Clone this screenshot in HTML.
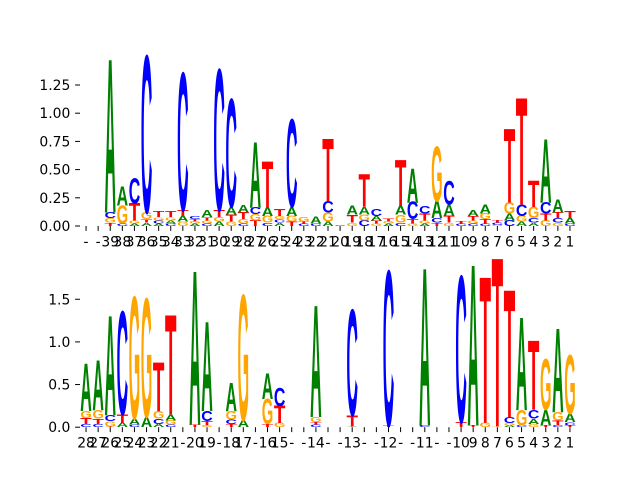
<!DOCTYPE html>
<html><head><meta charset="utf-8"><style>
html,body{margin:0;padding:0;background:#fff;width:640px;height:480px;overflow:hidden}
svg{display:block}
</style></head><body>
<svg id="fig" width="640" height="480" xmlns="http://www.w3.org/2000/svg">
<g id="top"></g>
<g id="bot"></g>
</svg>
<script>
const topLabels = ["-","-","39","38","37","36","35","34","33","32","31","30","29","28","27","26","25","24","23","22","21","20","19","18","17","16","15","14","13","12","11","10","9","8","7","6","5","4","3","2","1"];
const topA = [0,0,1.35,.17,.02,.03,.02,.03,.05,.02,.06,.04,.07,.07,.58,.08,.03,.08,0,.06,.04,.005,.08,.07,.04,.02,.08,.3,.02,.15,.1,0,.05,.08,0,.06,.04,.03,.56,.11,.05];
const topC = [0,0,.05,.02,.22,1.38,.03,.02,1.21,.03,.02,1.24,.95,.02,.06,.03,.03,.77,.02,.02,.1,.005,0,.05,.06,0,.03,.15,.07,.04,.21,.02,.02,.02,.02,.05,.1,.04,.1,.04,.02];
const topG = [0,0,.04,.16,.03,.06,.03,.03,.04,.02,.03,.04,.04,.04,.055,.06,.03,.05,.04,0,.08,0,.03,.05,.02,.02,.07,.02,.03,.48,.03,0,.03,.05,.01,.1,.05,.1,.05,.03,0];
const topT = [0,0,.03,0,.15,.03,.05,.05,.05,.02,.03,.06,.06,.06,.05,.4,.06,.04,.02,0,.55,0,.07,.29,.03,.03,.4,.04,.06,.03,.06,.02,.04,.04,.02,.65,.94,.23,.06,.05,.06];
const botLabels = ["28","27","26","25","24","23","22","21","-","20","19","-","18","17","-","16","15","-","-","14","-","-","13","-","-","12","-","-","11","-","-","10","9","8","7","6","5","4","3","2","1"];
const botA = [.55,.58,1.16,.05,.07,.12,.04,.07,0,1.79,1.04,0,.33,.08,0,.3,0,0,0,1.3,0,0,.01,0,0,0,0,0,1.83,0,0,0,1.87,0,0,.02,1.08,.06,.18,.97,.1];
const botC = [.04,.04,.07,1.2,.03,0,.06,.03,0,0,.12,0,.05,0,0,0,.21,0,0,.03,0,0,1.23,0,0,1.8,0,0,.02,0,0,1.7,0,0,0,.07,.02,.1,0,.02,.04];
const botG = [.08,.1,.06,0,1.42,1.38,.09,.05,0,0,.02,0,.1,1.46,0,.29,.05,0,0,.06,0,0,0,0,0,0,0,0,0,0,0,0,0,.05,.01,.03,.18,.04,.59,.1,.68];
const botT = [.07,.06,.01,.1,0,0,.57,1.16,0,.03,.05,0,.04,0,0,.04,.2,0,0,.03,0,0,.13,0,0,.02,0,0,0,0,0,.06,.02,1.7,1.96,1.48,0,.81,.02,.06,.02];
const topTicks = [0,0.25,0.5,0.75,1.0,1.25], topTickLabels = ["0.00","0.25","0.50","0.75","1.00","1.25"];
const botTicks = [0,0.5,1.0,1.5], botTickLabels = ["0.0","0.5","1.0","1.5"];

const NS="http://www.w3.org/2000/svg";
const COL={A:"#008000",C:"#0000ff",G:"#ffa500",T:"#ff0000"};
const CAP=68.8;
function mk(tag,attrs,parent){const e=document.createElementNS(NS,tag);for(const k in attrs)e.setAttribute(k,attrs[k]);parent.appendChild(e);return e;}
function panel(g,y0,y1,scalePx,labels,A,C,G,T,ticks,tickLabels,pre){
  const x0=80,x1=576,n=labels.length,cw=(x1-x0)/n;
  const xs=i=>x0+(i+0.5)*cw;
  const ys=v=>y1-v*scalePx;
  ticks.forEach((t,k)=>{
    const l=mk("line",{x1:x0-4.9,x2:x0,y1:ys(t),y2:ys(t),stroke:"#000","stroke-width":1},g);
    
    
    const tx=mk("text",{x:x0-9.7,y:ys(t)+5,"text-anchor":"end","font-size":13.9,"font-family":"DejaVu Sans, Liberation Sans, sans-serif"},g);
    tx.textContent=tickLabels[k];
    
    
  });
  for(let i=0;i<n;i++){
    const l=mk("line",{x1:xs(i),x2:xs(i),y1:y1,y2:y1+4.9,stroke:"#000","stroke-width":1},g);
    
    
    const tx=mk("text",{x:xs(i),y:y1+20.5,"text-anchor":"middle","font-size":13.9,"font-family":"DejaVu Sans, Liberation Sans, sans-serif"},g);
    tx.textContent=labels[i];
    
    
    const stack=[["A",A[i]],["C",C[i]],["G",G[i]],["T",T[i]]].filter(s=>s[1]>0).sort((a,b)=>a[1]-b[1]);
    let base=0;
    const w=cw*0.95;
    stack.forEach(([L,h])=>{
      const hp=h*scalePx, yb=ys(base);
      base+=h;
      if(hp<0.3)return;
      const t=mk("text",{x:0,y:0,"font-size":100,"font-weight":"bold","font-family":"Liberation Sans, sans-serif",fill:COL[L],textLength:w,lengthAdjust:"spacingAndGlyphs",
        transform:`translate(${xs(i)-w/2},${yb}) scale(1,${hp/CAP})`},g);
      t.textContent=L;
      
      
    });
  }
}
panel(document.getElementById("top"),57.6,226,112.8,topLabels,topA,topC,topG,topT,topTicks,topTickLabels,"top-");
panel(document.getElementById("bot"),259.2,427.2,85.3,botLabels,botA,botC,botG,botT,botTicks,botTickLabels,"bottom-");
</script>
</body></html>
